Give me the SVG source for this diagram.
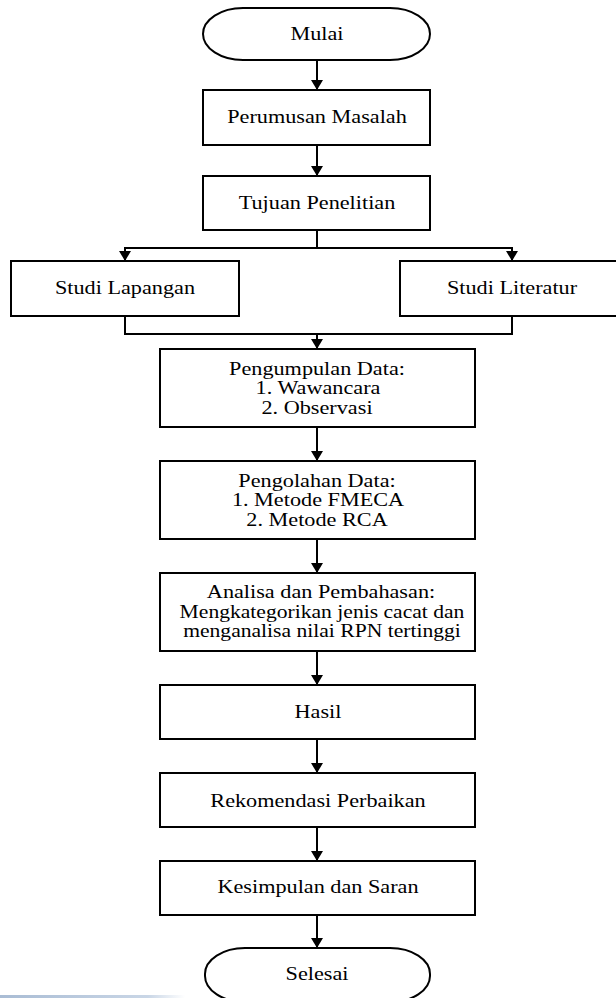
<svg xmlns="http://www.w3.org/2000/svg" width="616" height="998" viewBox="0 0 616 998">
  <style>
    .box { fill:#fff; stroke:#000; stroke-width:2; }
    .t { font-family:"Liberation Serif","Times New Roman",serif; font-size:18px; fill:#000; text-anchor:middle; }
    .c { fill:none; stroke:#000; stroke-width:2; }
    .a { fill:none; stroke:#000; stroke-width:2; marker-end:url(#arr); }
  </style>
  <defs>
    <marker id="arr" markerUnits="userSpaceOnUse" markerWidth="12" markerHeight="12" refX="10" refY="6" orient="auto">
      <path d="M0,0 L10,6 L0,12 Z" fill="#000"/>
    </marker>
    <linearGradient id="bar" x1="0" y1="0" x2="1" y2="0">
      <stop offset="0" stop-color="#a9bcd4"/>
      <stop offset="0.8" stop-color="#c9d6e6"/>
      <stop offset="1" stop-color="#ffffff"/>
    </linearGradient>
  </defs>
  <rect x="0" y="0" width="616" height="998" fill="#fff"/>
  <rect x="0" y="995" width="185" height="3" fill="url(#bar)"/>

  <g id="connectors">
    <line class="a" x1="317" y1="60" x2="317" y2="90"/>
    <line class="a" x1="317" y1="145" x2="317" y2="176"/>
    <polyline class="c" points="317,230 317,248"/>
    <polyline class="a" points="317,248 125,248 125,261"/>
    <polyline class="a" points="317,248 512,248 512,261"/>
    <polyline class="c" points="125,316 125,334 512,334 512,316"/>
    <line class="a" x1="317" y1="334" x2="317" y2="349"/>
    <line class="a" x1="317" y1="427" x2="317" y2="461"/>
    <line class="a" x1="317" y1="539" x2="317" y2="573"/>
    <line class="a" x1="317" y1="651" x2="317" y2="685"/>
    <line class="a" x1="317" y1="739" x2="317" y2="773"/>
    <line class="a" x1="317" y1="827" x2="317" y2="861"/>
    <line class="a" x1="317" y1="915" x2="317" y2="948"/>
  </g>

  <g id="mulai">
    <rect class="box" x="203" y="8" width="227" height="52" rx="40" ry="26"/>
    <text class="t" transform="translate(317,40) scale(1.235,1)">Mulai</text>
  </g>
  <g id="perumusan">
    <rect class="box" x="203" y="90" width="227" height="55"/>
    <text class="t" transform="translate(317,123) scale(1.235,1)">Perumusan Masalah</text>
  </g>
  <g id="tujuan">
    <rect class="box" x="203" y="176" width="227" height="54"/>
    <text class="t" transform="translate(317,209) scale(1.235,1)">Tujuan Penelitian</text>
  </g>
  <g id="studi-lapangan">
    <rect class="box" x="11" y="261" width="228" height="55"/>
    <text class="t" transform="translate(125,294) scale(1.235,1)">Studi Lapangan</text>
  </g>
  <g id="studi-literatur">
    <rect class="box" x="400" y="261" width="226" height="55"/>
    <text class="t" transform="translate(512,294) scale(1.235,1)">Studi Literatur</text>
  </g>
  <g id="pengumpulan">
    <rect class="box" x="160" y="349" width="315" height="78"/>
    <text class="t" transform="translate(317,375) scale(1.235,1)">Pengumpulan Data:</text>
    <text class="t" transform="translate(318,394) scale(1.235,1)">1. Wawancara</text>
    <text class="t" transform="translate(317,414) scale(1.235,1)">2. Observasi</text>
  </g>
  <g id="pengolahan">
    <rect class="box" x="160" y="461" width="315" height="78"/>
    <text class="t" transform="translate(317,487) scale(1.235,1)">Pengolahan Data:</text>
    <text class="t" transform="translate(318,506) scale(1.235,1)">1. Metode FMECA</text>
    <text class="t" transform="translate(317,526) scale(1.235,1)">2. Metode RCA</text>
  </g>
  <g id="analisa">
    <rect class="box" x="160" y="573" width="315" height="78"/>
    <text class="t" transform="translate(321,598) scale(1.235,1)">Analisa dan Pembahasan:</text>
    <text class="t" transform="translate(322,618) scale(1.2,1)">Mengkategorikan jenis cacat dan</text>
    <text class="t" transform="translate(322,637) scale(1.2,1)">menganalisa nilai RPN tertinggi</text>
  </g>
  <g id="hasil">
    <rect class="box" x="160" y="685" width="315" height="54"/>
    <text class="t" transform="translate(318,718) scale(1.235,1)">Hasil</text>
  </g>
  <g id="rekomendasi">
    <rect class="box" x="160" y="773" width="315" height="54"/>
    <text class="t" transform="translate(318,807) scale(1.235,1)">Rekomendasi Perbaikan</text>
  </g>
  <g id="kesimpulan">
    <rect class="box" x="160" y="861" width="315" height="54"/>
    <text class="t" transform="translate(318,893) scale(1.235,1)">Kesimpulan dan Saran</text>
  </g>
  <g id="selesai">
    <rect class="box" x="205" y="948" width="225" height="54" rx="40" ry="26"/>
    <text class="t" transform="translate(317,980) scale(1.235,1)">Selesai</text>
  </g>
</svg>
